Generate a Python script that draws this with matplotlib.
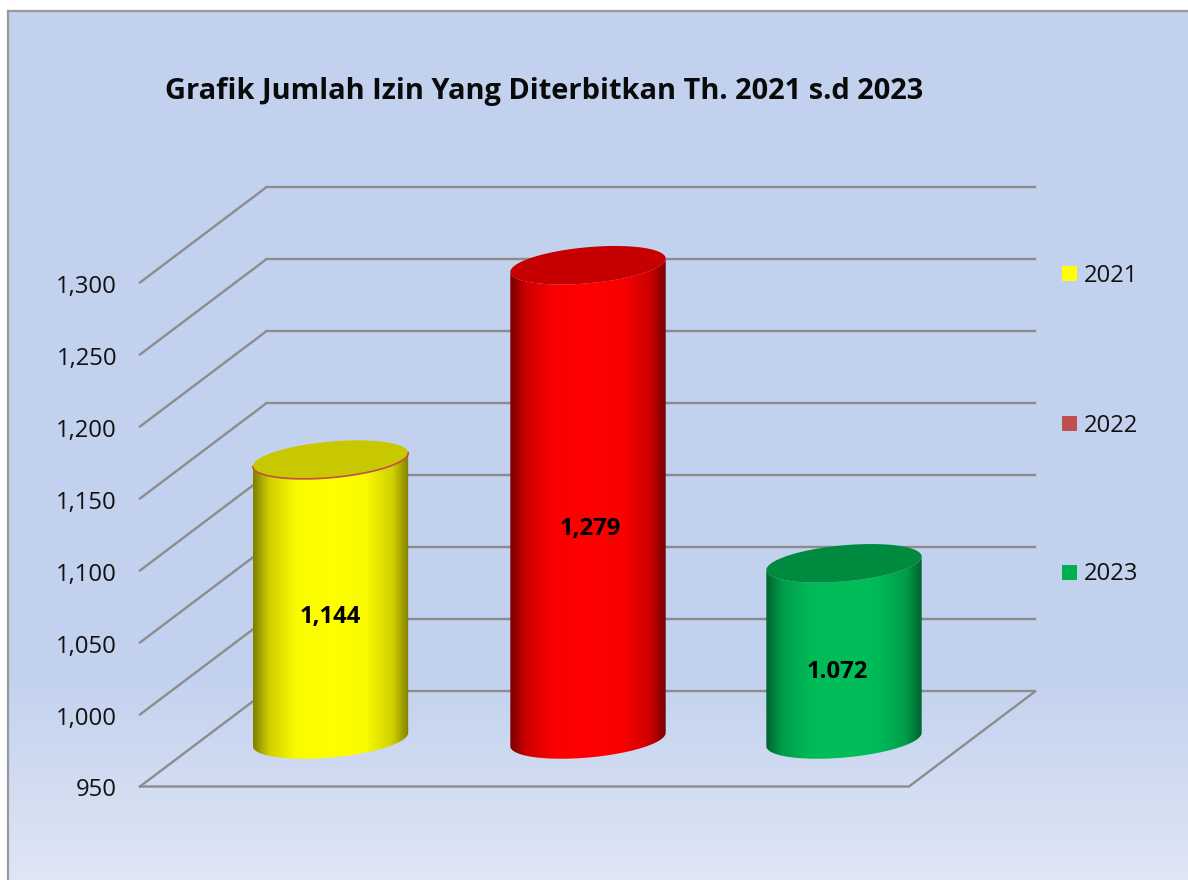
import numpy as np
import matplotlib
matplotlib.use('Agg')
import matplotlib.pyplot as plt
from matplotlib.path import Path
from matplotlib.patches import PathPatch, Rectangle
from matplotlib.colors import to_rgb

plt.rcParams['font.family'] = ['Open Sans', 'DejaVu Sans']

years = ['2021', '2022', '2023']
values = [1144, 1279, 1072]
value_labels = ['1,144', '1,279', '1.072']
axis_ticks = [950, 1000, 1050, 1100, 1150, 1200, 1250, 1300]
tick_labels = ['950', '1,000', '1,050', '1,100', '1,150', '1,200', '1,250', '1,300']
title = 'Grafik Jumlah Izin Yang Diterbitkan Th. 2021 s.d 2023'

body_mid = ['#ffff00', '#ff0000', '#00bd5a']
body_dark = ['#7f7f00', '#780000', '#00642f']
lid_color = ['#c8c800', '#c60000', '#008a40']
legend_color = ['#ffff00', '#c0504d', '#00b050']

GRID = '#8c8c8c'
FLOOR_Y, FRONT_L, FRONT_R = 786.5, 140, 909
DEPTH_X, DEPTH_Y = 126, 95
PX_PER_UNIT = 1.44
BAR_X = [330.5, 588, 844]
LABEL_X = [330, 590, 837]
LABEL_DY = [17, 27, 21]
BAR_BASE = 739.5
A, B, TILT = 78, 18, np.radians(5.2)


def val_y(v):
    return FLOOR_Y - (v - 950) * PX_PER_UNIT


def ellipse(cx, cy, t):
    x = cx + A * np.cos(t) * np.cos(TILT) + B * np.sin(t) * np.sin(TILT)
    y = cy - A * np.cos(t) * np.sin(TILT) + B * np.sin(t) * np.cos(TILT)
    return np.column_stack([x, y])


def hgrad(dark, mid):
    d, m = np.array(to_rgb(dark)), np.array(to_rgb(mid))
    stops = [0, 0.1, 0.28, 0.5, 0.72, 0.9, 1]
    mix = [0, 0.62, 0.97, 1, 0.97, 0.62, 0]
    xs = np.linspace(0, 1, 256)
    k = np.interp(xs, stops, mix)[:, None]
    return (d * (1 - k) + m * k)[None, :, :]


fig = plt.figure(figsize=(11.88, 8.8), dpi=100)
ax = fig.add_axes([0, 0, 1, 1])
ax.axis('off')

# background
ys = np.linspace(0, 1, 256)
top, bot = np.array(to_rgb('#c2d1ee')), np.array(to_rgb('#dfe6f5'))
f = np.clip((ys * 880 - 670) / 210, 0, 1)
bg = (top[None, :] * (1 - f[:, None]) + bot[None, :] * f[:, None])[:, None, :]
ax.imshow(bg, extent=[8, 1188, 880, 11], aspect='auto', zorder=0)
ax.plot([8, 8], [880, 11], color='#9a9a9a', lw=1.6, zorder=1)
ax.plot([8, 1188], [11, 11], color='#9a9a9a', lw=1.6, zorder=1)

# walls
for v in axis_ticks:
    y = val_y(v)
    ax.plot([FRONT_L, FRONT_L + DEPTH_X], [y, y - DEPTH_Y], color=GRID, lw=1.7, zorder=2)
    ax.plot([FRONT_L + DEPTH_X, FRONT_R + DEPTH_X], [y - DEPTH_Y, y - DEPTH_Y], color=GRID, lw=1.7, zorder=2)
y0 = val_y(axis_ticks[0])
ax.plot([FRONT_L, FRONT_R, FRONT_R + DEPTH_X], [y0, y0, y0 - DEPTH_Y], color=GRID, lw=1.7, zorder=2)

for y, lab in zip(map(val_y, axis_ticks), tick_labels):
    ax.text(117, y + 4, lab, ha='right', va='center', fontsize=17.2, color='#111111')

# cylinders
for i, v in enumerate(values):
    cx = BAR_X[i]
    cy = BAR_BASE - 0.5 - (v - 950) * PX_PER_UNIT
    lower = np.linspace(np.pi, 0, 80)
    bottom_pts = ellipse(cx, BAR_BASE, lower)
    top_pts = ellipse(cx, cy, lower[::-1])
    body = np.vstack([bottom_pts, top_pts, bottom_pts[:1]])
    patch = PathPatch(Path(body), fc='none', ec='none', transform=ax.transData)
    ax.add_patch(patch)
    im = ax.imshow(hgrad(body_dark[i], body_mid[i]), extent=[cx - A, cx + A, BAR_BASE + 30, cy - 30],
                   aspect='auto', zorder=3)
    im.set_clip_path(patch)
    lid = ellipse(cx, cy, np.linspace(0, 2 * np.pi, 160))
    ax.fill(lid[:, 0], lid[:, 1], color=lid_color[i], lw=0, zorder=4)
    if i == 0:
        rim = ellipse(cx, cy, np.linspace(0, np.pi, 80))
        ax.plot(rim[:, 0], rim[:, 1], color=legend_color[1], lw=1.2, zorder=5)
    ax.text(LABEL_X[i], (cy + BAR_BASE) / 2 + LABEL_DY[i], value_labels[i], ha='center', va='center',
            fontsize=17.2, fontweight='bold', color='black', zorder=6)

# legend
for name, col, y in zip(years, legend_color, [273.5, 423.5, 572.5]):
    ax.add_patch(Rectangle((1062, y - 7.5), 15, 15, fc=col, ec='none', zorder=3))
    ax.text(1084, y + 2, name, ha='left', va='center', fontsize=17.2, color='#111111')

ax.text(544, 91, title, ha='center', va='center', fontsize=20.85, fontweight='bold', color='#0a0a0a')

ax.set_xlim(0, 1188)
ax.set_ylim(880, 0)
fig.savefig('out.png', dpi=100, facecolor='white')
